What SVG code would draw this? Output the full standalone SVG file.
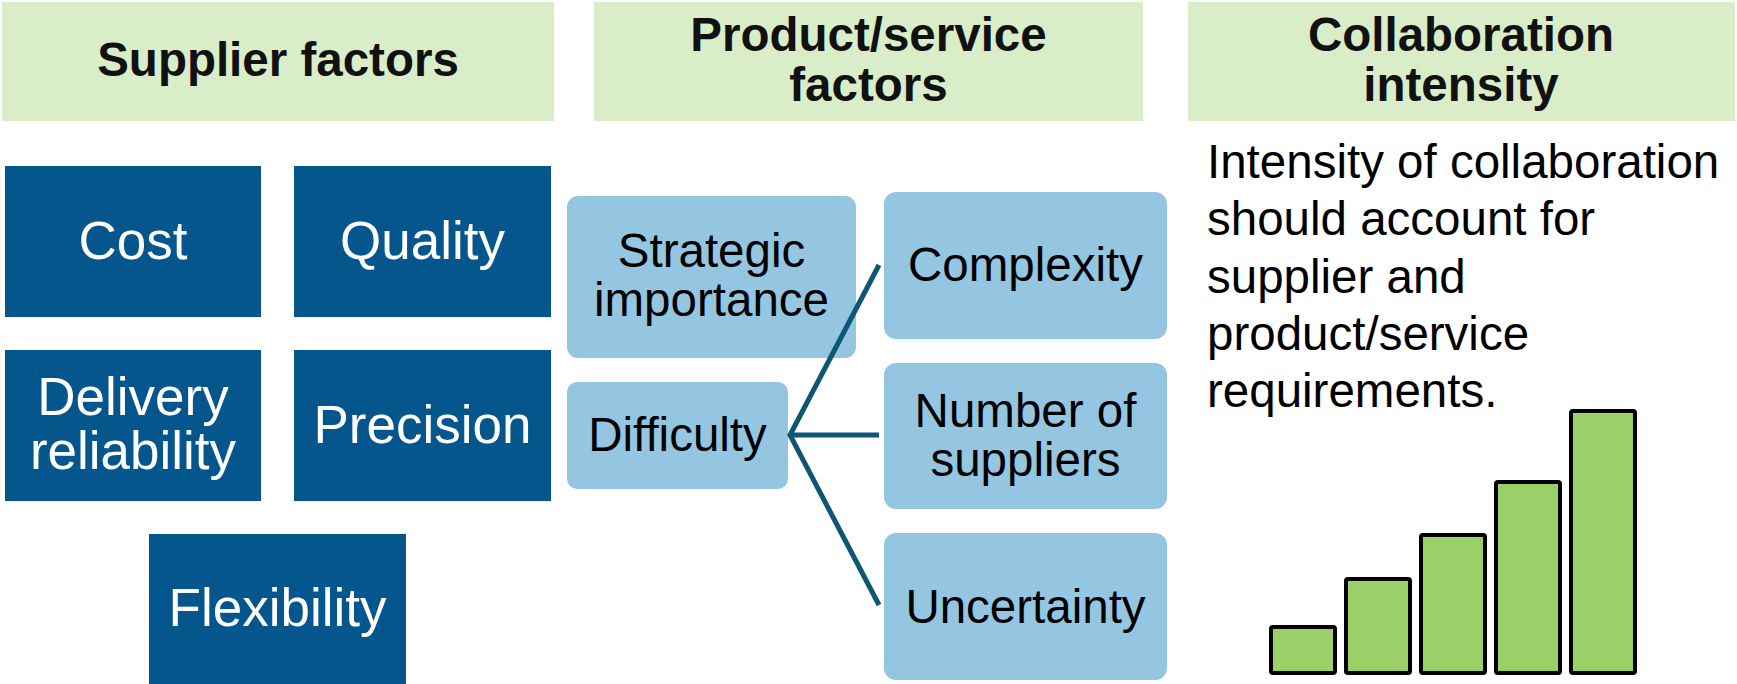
<svg xmlns="http://www.w3.org/2000/svg" width="1737" height="684" viewBox="0 0 1737 684">
<style>
.hdr{fill:#D9EDC9}
.ht{font-family:"Liberation Sans",Arial,sans-serif;font-weight:bold;font-size:47.5px;fill:#111;text-anchor:middle}
.sb{fill:#04568C}
.st{font-family:"Liberation Sans",Arial,sans-serif;font-size:53px;fill:#fff;text-anchor:middle}
.pb{fill:#94C6E1}
.pt{font-family:"Liberation Sans",Arial,sans-serif;font-size:47.5px;fill:#000;text-anchor:middle}
.bt{font-family:"Liberation Sans",Arial,sans-serif;font-size:47.5px;fill:#000}
.bar{fill:#9BD068;stroke:#000;stroke-width:4;stroke-linejoin:round}
.con{stroke:#0D5676;stroke-width:5;fill:none}
</style>
<rect width="1737" height="684" fill="#fff"/>
<g id="hdr-supplier"><rect class="hdr" x="2" y="2" width="552" height="119"/><text class="ht" x="278" y="76">Supplier factors</text></g>
<g id="hdr-product"><rect class="hdr" x="594" y="2" width="549" height="119"/><text class="ht" x="868.5" y="51">Product/service</text><text class="ht" x="868.5" y="101">factors</text></g>
<g id="hdr-collab"><rect class="hdr" x="1188" y="2" width="547" height="119"/><text class="ht" x="1461" y="51">Collaboration</text><text class="ht" x="1461" y="101">intensity</text></g>

<g id="cost"><rect class="sb" x="5" y="166" width="256" height="151"/><text class="st" x="133" y="259">Cost</text></g>
<g id="quality"><rect class="sb" x="294" y="166" width="257" height="151"/><text class="st" x="422.5" y="259">Quality</text></g>
<g id="delivery"><rect class="sb" x="5" y="350" width="256" height="151"/><text class="st" x="133" y="415">Delivery</text><text class="st" x="133" y="469">reliability</text></g>
<g id="precision"><rect class="sb" x="294" y="350" width="257" height="151"/><text class="st" x="422.5" y="443">Precision</text></g>
<g id="flexibility"><rect class="sb" x="149" y="534" width="257" height="151"/><text class="st" x="277.5" y="626">Flexibility</text></g>

<g id="strategic"><rect class="pb" x="567" y="196" width="289" height="162" rx="11"/><text class="pt" x="711.5" y="267">Strategic</text><text class="pt" x="711.5" y="316">importance</text></g>
<g id="difficulty"><rect class="pb" x="567" y="382" width="221" height="107" rx="10"/><text class="pt" x="677.5" y="451">Difficulty</text></g>
<g id="complexity"><rect class="pb" x="884" y="192" width="283" height="147" rx="12"/><text class="pt" x="1025.5" y="281">Complexity</text></g>
<g id="suppliers"><rect class="pb" x="884" y="363" width="283" height="146" rx="12"/><text class="pt" x="1025.5" y="427">Number of</text><text class="pt" x="1025.5" y="476">suppliers</text></g>
<g id="uncertainty"><rect class="pb" x="884" y="533" width="283" height="147" rx="12"/><text class="pt" x="1025.5" y="623">Uncertainty</text></g>

<g id="connectors">
<path class="con" d="M879,265 L790,435 L879,605"/>
<path class="con" d="M790,435 L879,435"/>
</g>

<g id="collab-text">
<text class="bt" x="1207" y="178">Intensity of collaboration</text>
<text class="bt" x="1207" y="235">should account for</text>
<text class="bt" x="1207" y="292.5">supplier and</text>
<text class="bt" x="1207" y="350">product/service</text>
<text class="bt" x="1207" y="407">requirements.</text>
</g>
<g id="bars">
<rect class="bar" x="1271" y="627" width="64" height="46" rx="2"/>
<rect class="bar" x="1346" y="579" width="64" height="94" rx="2"/>
<rect class="bar" x="1421" y="535" width="64" height="138" rx="2"/>
<rect class="bar" x="1496" y="482" width="64" height="191" rx="2"/>
<rect class="bar" x="1571" y="411" width="64" height="262" rx="2"/>
</g>
</svg>
